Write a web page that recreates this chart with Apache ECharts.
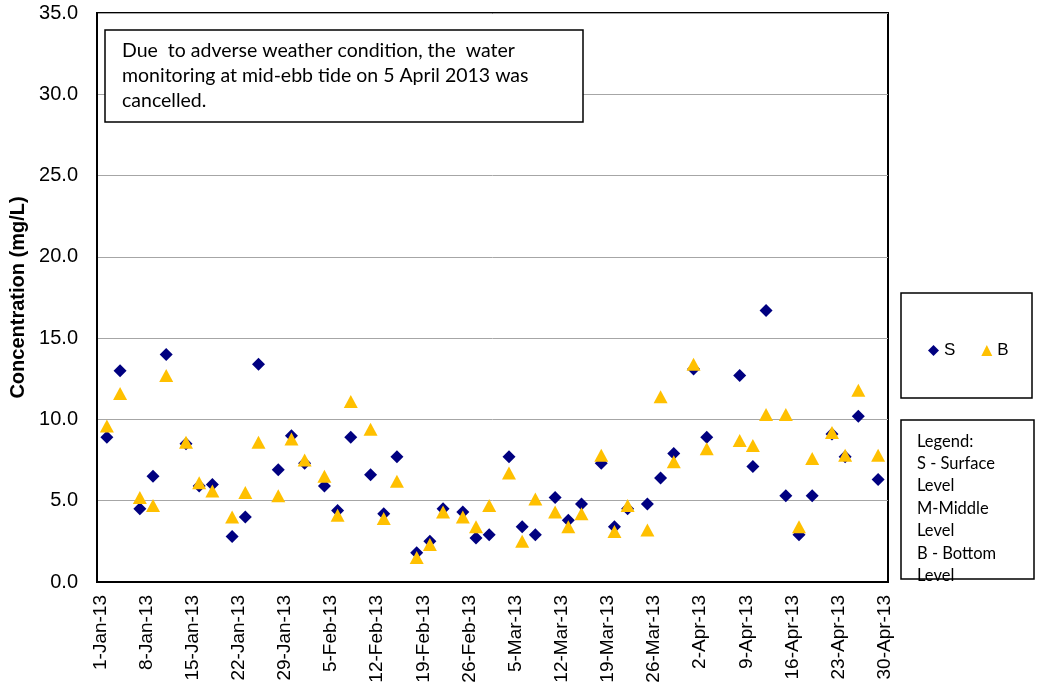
<!DOCTYPE html>
<html>
<head>
<meta charset="utf-8">
<script src="https://cdn.jsdelivr.net/npm/echarts@6/dist/echarts.min.js"></script>
<style>
  html, body { margin: 0; padding: 0; background: #fff; }
  #chart { width: 1040px; height: 693px; }
</style>
</head>
<body>
<div id="chart"></div>
<script>
// sampling dates (no sampling on 5-Apr-13, cancelled)
var sampleDates = [
  '2-Jan-13', '4-Jan-13', '7-Jan-13', '9-Jan-13', '11-Jan-13', '14-Jan-13', '16-Jan-13',
  '18-Jan-13', '21-Jan-13', '23-Jan-13', '25-Jan-13', '28-Jan-13', '30-Jan-13', '1-Feb-13',
  '4-Feb-13', '6-Feb-13', '8-Feb-13', '11-Feb-13', '13-Feb-13', '15-Feb-13', '18-Feb-13',
  '20-Feb-13', '22-Feb-13', '25-Feb-13', '27-Feb-13', '1-Mar-13', '4-Mar-13', '6-Mar-13',
  '8-Mar-13', '11-Mar-13', '13-Mar-13', '15-Mar-13', '18-Mar-13', '20-Mar-13', '22-Mar-13',
  '25-Mar-13', '27-Mar-13', '29-Mar-13', '1-Apr-13', '3-Apr-13', '8-Apr-13', '10-Apr-13',
  '12-Apr-13', '15-Apr-13', '17-Apr-13', '19-Apr-13', '22-Apr-13', '24-Apr-13', '26-Apr-13',
  '29-Apr-13'
];
// S - Surface
var surface = [
  8.9, 13.0, 4.5, 6.5, 14.0, 8.5, 5.9,
  6.0, 2.8, 4.0, 13.4, 6.9, 9.0, 7.3,
  5.9, 4.4, 8.9, 6.6, 4.2, 7.7, 1.8,
  2.5, 4.5, 4.3, 2.7, 2.9, 7.7, 3.4,
  2.9, 5.2, 3.8, 4.8, 7.3, 3.4, 4.5,
  4.8, 6.4, 7.9, 13.1, 8.9, 12.7, 7.1,
  16.7, 5.3, 2.9, 5.3, 9.1, 7.7, 10.2,
  6.3
];
// B - Bottom
var bottom = [
  9.6, 11.6, 5.2, 4.7, 12.7, 8.6, 6.1,
  5.6, 4.0, 5.5, 8.6, 5.3, 8.8, 7.5,
  6.5, 4.1, 11.1, 9.4, 3.9, 6.2, 1.5,
  2.3, 4.3, 4.0, 3.4, 4.7, 6.7, 2.5,
  5.1, 4.3, 3.4, 4.2, 7.8, 3.1, 4.7,
  3.2, 11.4, 7.4, 13.4, 8.2, 8.7, 8.4,
  10.3, 10.3, 3.4, 7.6, 9.2, 7.8, 11.8,
  7.8
];
var yTicks = [0, 5, 10, 15, 20, 25, 30, 35];

// one category per day, 1-Jan-13 .. 30-Apr-13
var monthNames = ['Jan', 'Feb', 'Mar', 'Apr', 'May', 'Jun', 'Jul', 'Aug', 'Sep', 'Oct', 'Nov', 'Dec'];
var categories = [];
for (var i = 0; i < 120; i++) {
  var d = new Date(2013, 0, 1 + i);
  categories.push(d.getDate() + '-' + monthNames[d.getMonth()] + '-13');
}

function toPoints(vals) {
  return sampleDates.map(function (dt, k) {
    return [categories.indexOf(dt), vals[k]];
  });
}

var chart = echarts.init(document.getElementById('chart'), null, { renderer: 'canvas' });

var option = {
  backgroundColor: '#fff',
  animation: false,
  grid: {
    left: 97,
    right: 152,
    top: 13,
    bottom: 111,
    show: true,
    borderColor: '#000',
    borderWidth: 2,
    backgroundColor: '#fff'
  },
  legend: {
    data: [{ name: 'S', icon: 'diamond' }, { name: 'B', icon: 'triangle' }],
    left: 923,
    top: 337,
    itemWidth: 11,
    itemHeight: 11,
    itemGap: 26,
    textStyle: { fontFamily: 'Liberation Sans', fontSize: 17, color: '#000' }
  },
  xAxis: {
    type: 'category',
    data: categories,
    boundaryGap: true,
    axisLine: { show: true, lineStyle: { color: '#000', width: 2 } },
    axisTick: { show: false },
    axisLabel: {
      interval: 6,
      rotate: 90,
      margin: 13,
      color: '#000',
      fontFamily: 'Liberation Sans',
      fontSize: 19
    },
    splitLine: { show: false }
  },
  yAxis: {
    type: 'value',
    min: yTicks[0],
    max: yTicks[yTicks.length - 1],
    interval: 5,
    name: 'Concentration (mg/L)',
    nameLocation: 'middle',
    nameGap: 65,
    nameTextStyle: { fontFamily: 'Liberation Sans', fontWeight: 'bold', fontSize: 20, color: '#000' },
    axisLine: { show: true, lineStyle: { color: '#000', width: 2 } },
    axisTick: { show: false },
    axisLabel: {
      margin: 19,
      color: '#000',
      fontFamily: 'Liberation Sans',
      fontSize: 20,
      formatter: function (v) { return v.toFixed(1); }
    },
    splitLine: { show: true, lineStyle: { color: '#a6a6a6', width: 1 } }
  },
  series: [
    {
      name: 'S',
      type: 'scatter',
      symbol: 'diamond',
      symbolSize: [13, 13],
      itemStyle: { color: '#000080', opacity: 1 },
      data: toPoints(surface)
    },
    {
      name: 'B',
      type: 'scatter',
      symbol: 'triangle',
      symbolSize: [14, 13],
      itemStyle: { color: '#FFC000', opacity: 1 },
      data: toPoints(bottom)
    }
  ],
  graphic: [
    {
      type: 'rect',
      shape: { x: 105, y: 30, width: 478, height: 92 },
      style: { fill: '#fff', stroke: '#000', lineWidth: 1.5 },
      z: 100
    },
    {
      type: 'text',
      x: 122, y: 38,
      style: {
        text: 'Due  to adverse weather condition, the  water\nmonitoring at mid-ebb tide on 5 April 2013 was\ncancelled.',
        font: '19.5px Lato',
        lineHeight: 25,
        fill: '#000'
      },
      z: 101
    },
    {
      type: 'rect',
      shape: { x: 901, y: 293, width: 131, height: 105 },
      style: { fill: 'none', stroke: '#000', lineWidth: 1.5 },
      z: 100
    },
    {
      type: 'rect',
      shape: { x: 901, y: 420, width: 133, height: 159 },
      style: { fill: 'none', stroke: '#000', lineWidth: 1.5 },
      z: 100
    },
    {
      type: 'text',
      x: 917, y: 430,
      style: {
        text: 'Legend:\nS - Surface\nLevel\nM-Middle\nLevel\nB - Bottom\nLevel',
        font: '16.5px Lato',
        lineHeight: 22.4,
        fill: '#000'
      },
      z: 101
    }
  ]
};

chart.setOption(option);
</script>
</body>
</html>
